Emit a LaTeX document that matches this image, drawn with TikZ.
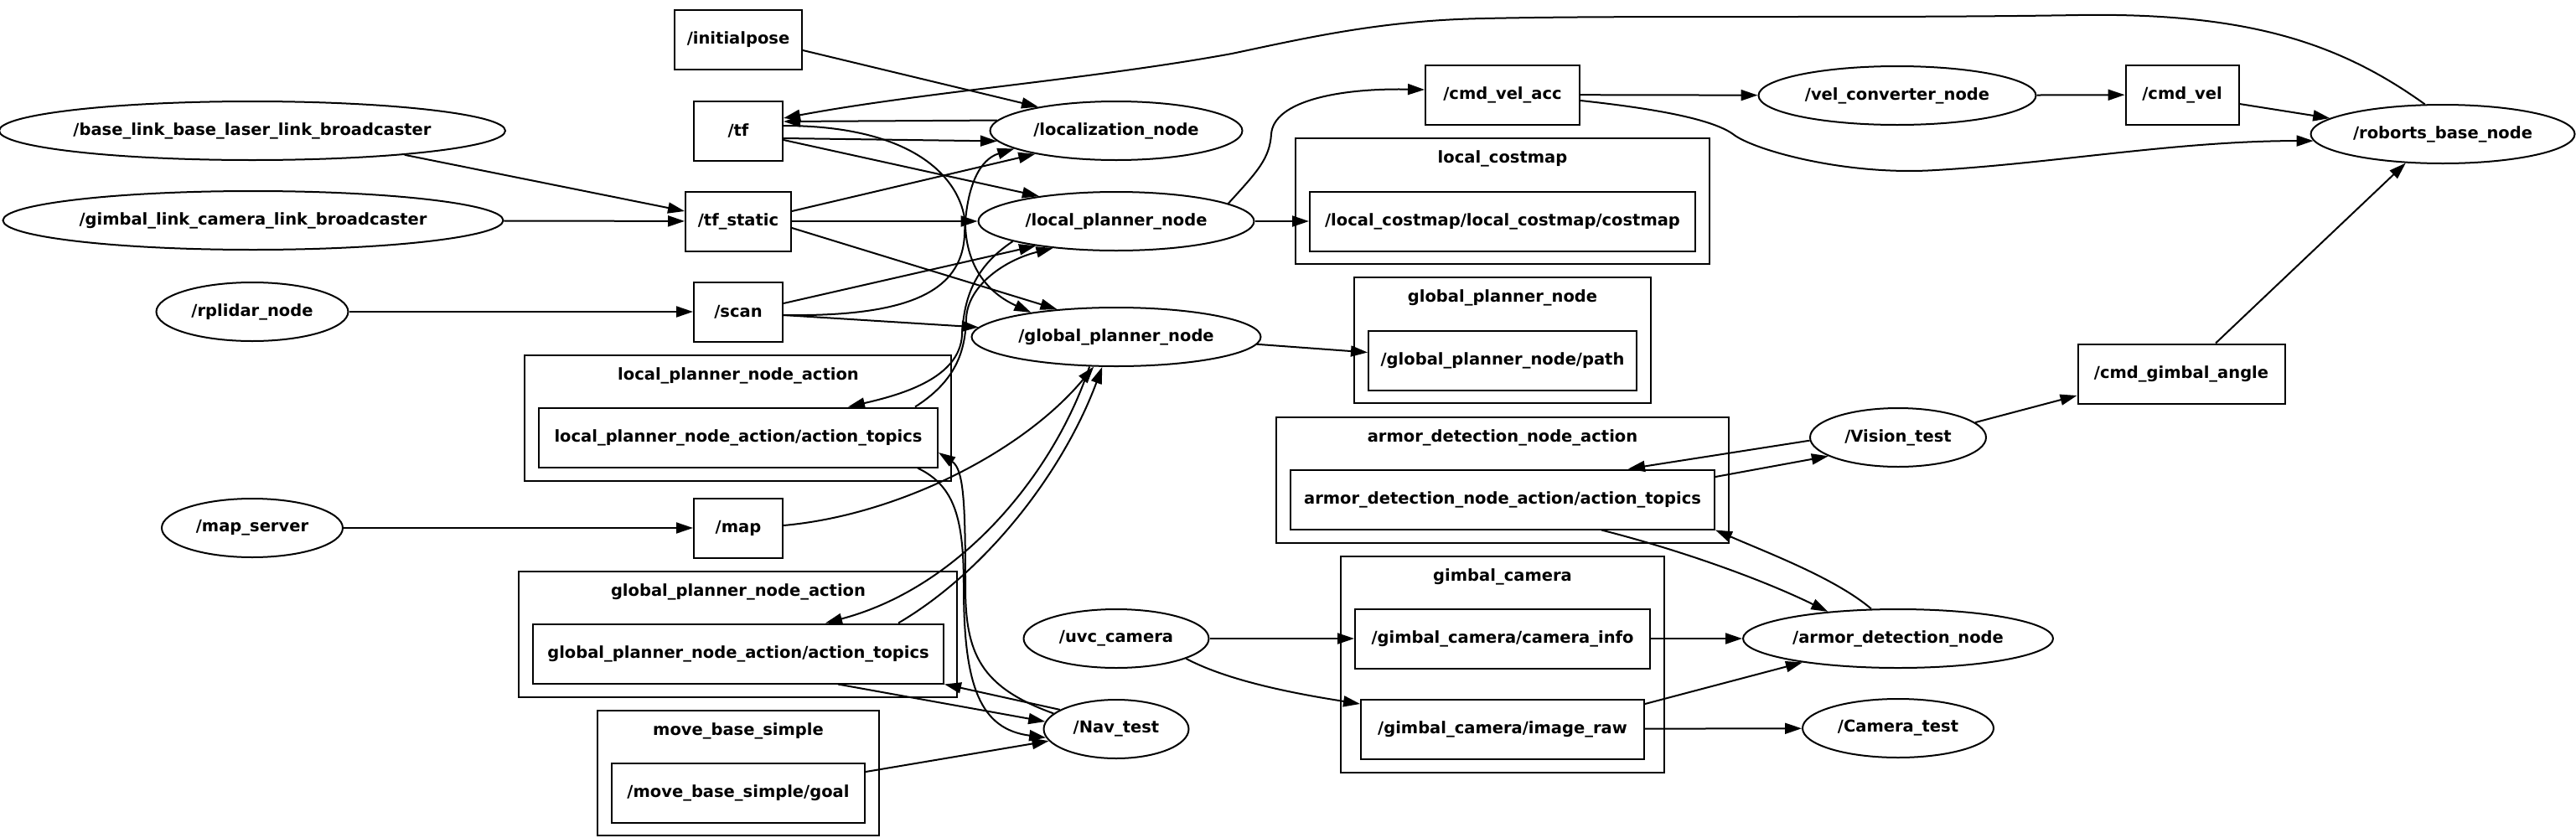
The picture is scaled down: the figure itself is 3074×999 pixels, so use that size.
\documentclass[tikz,border=0pt]{standalone}
\usepackage{fontspec}
\setmainfont{DejaVu Sans}
\usetikzlibrary{shapes.geometric,arrows.meta}
\begin{document}
\begin{tikzpicture}[x=1pt,y=-1pt,
  lbl/.style={font=\fontsize{19.5pt}{23pt}\selectfont\bfseries},
  topic/.style={draw, line width=2pt, rectangle, inner sep=0pt, minimum height=71pt, lbl},
  rosnode/.style={draw, line width=2pt, ellipse, inner sep=0pt, minimum height=70pt, lbl},
  cluster/.style={draw, line width=2pt, rectangle, inner sep=0pt},
  edge/.style={line width=2pt, -{Triangle[length=20pt,width=13pt]}}]
\useasboundingbox (0,0) rectangle (3074,999);

% clusters
\node[cluster, minimum width=509pt, minimum height=150pt] (lpacl) at (880.5,499) {};
\node[lbl] (lpat) at (881,448) {local\_planner\_node\_action};
\node[cluster, minimum width=523pt, minimum height=150pt] (gpacl) at (880.5,757) {};
\node[lbl] (gpat) at (881,706) {global\_planner\_node\_action};
\node[cluster, minimum width=336pt, minimum height=149pt] (mbscl) at (881,922.5) {};
\node[lbl] (mbst) at (881,872) {move\_base\_simple};
\node[cluster, minimum width=494pt, minimum height=150pt] (lccl) at (1793,240) {};
\node[lbl] (lct) at (1793,189) {local\_costmap};
\node[cluster, minimum width=354pt, minimum height=150pt] (gpncl) at (1793,406) {};
\node[lbl] (gpnt) at (1793,355) {global\_planner\_node};
\node[cluster, minimum width=540pt, minimum height=150pt] (adacl) at (1793,573) {};
\node[lbl] (adat) at (1793,522) {armor\_detection\_node\_action};
\node[cluster, minimum width=386pt, minimum height=258pt] (gccl) at (1793,793) {};
\node[lbl] (gct) at (1793,688) {gimbal\_camera};

% nodes
\node[rosnode, minimum width=602pt] (bllb) at (301,156) {/base\_link\_base\_laser\_link\_broadcaster};
\node[rosnode, minimum width=597pt] (glcb) at (302,263) {/gimbal\_link\_camera\_link\_broadcaster};
\node[rosnode, minimum width=229pt] (rplidar) at (301,372) {/rplidar\_node};
\node[rosnode, minimum width=216pt] (mapserver) at (301,630) {/map\_server};
\node[topic, minimum width=152pt] (initialpose) at (881,47) {/initialpose};
\node[topic, minimum width=106pt] (tf) at (881,156) {/tf};
\node[topic, minimum width=126pt] (tfstatic) at (881,264) {/tf\_static};
\node[topic, minimum width=106pt] (scan) at (881,372) {/scan};
\node[topic, minimum width=106pt] (map) at (881,630) {/map};
\node[topic, minimum width=476pt] (localact) at (881,522) {local\_planner\_node\_action/action\_topics};
\node[topic, minimum width=490pt] (globalact) at (881,780) {global\_planner\_node\_action/action\_topics};
\node[topic, minimum width=302pt] (goal) at (881,946) {/move\_base\_simple/goal};
\node[rosnode, minimum width=301pt] (localization) at (1332,156) {/localization\_node};
\node[rosnode, minimum width=329pt] (localplanner) at (1332,264) {/local\_planner\_node};
\node[rosnode, minimum width=345pt] (globalplanner) at (1332,402) {/global\_planner\_node};
\node[rosnode, minimum width=221pt] (uvc) at (1332,762) {/uvc\_camera};
\node[rosnode, minimum width=173pt] (navtest) at (1332,870) {/Nav\_test};
\node[topic, minimum width=184pt] (cmdvelacc) at (1793,113) {/cmd\_vel\_acc};
\node[topic, minimum width=460pt] (costmap) at (1793,264) {/local\_costmap/local\_costmap/costmap};
\node[topic, minimum width=320pt] (path) at (1793,430) {/global\_planner\_node/path};
\node[topic, minimum width=506pt] (armoract) at (1793,596) {armor\_detection\_node\_action/action\_topics};
\node[topic, minimum width=352pt] (camerainfo) at (1793,762) {/gimbal\_camera/camera\_info};
\node[topic, minimum width=338pt] (imageraw) at (1793,870) {/gimbal\_camera/image\_raw};
\node[rosnode, minimum width=331pt] (velconv) at (2264,114) {/vel\_converter\_node};
\node[topic, minimum width=135pt] (cmdvel) at (2604,113) {/cmd\_vel};
\node[rosnode, minimum width=315pt] (roborts) at (2915,160) {/roborts\_base\_node};
\node[topic, minimum width=247pt] (cmdgimbal) at (2603,446) {/cmd\_gimbal\_angle};
\node[rosnode, minimum width=210pt] (vision) at (2265,522) {/Vision\_test};
\node[rosnode, minimum width=370pt] (armor) at (2265,762) {/armor\_detection\_node};
\node[rosnode, minimum width=228pt] (cameratest) at (2265,869) {/Camera\_test};

% edges
\draw[edge] (bllb.-9.7) -- ([yshift=12pt]tfstatic.west);
\draw[edge] (glcb) -- (tfstatic);
\draw[edge] (rplidar) -- (scan);
\draw[edge] (mapserver) -- (map);
\draw[edge] ([yshift=-13pt]initialpose.east) -- (localization.163.4);
\draw[edge] (localization.175.6) -- ([yshift=11pt]tf.east);
\draw[edge] ([yshift=-9pt]tf.east) -- (localization.-175.1);
\draw[edge] ([yshift=-11pt]tf.east) -- (localplanner.162);
\draw[edge] ([yshift=6pt]tf.east) .. controls (1100,150) and (1150,220) .. (1152,270) .. controls (1154,320) and (1180,350) .. (globalplanner.164);
\draw[edge] ([yshift=12pt]tfstatic.east) -- (localization.-164.3);
\draw[edge] (tfstatic) -- (localplanner);
\draw[edge] ([yshift=-8pt]tfstatic.east) -- (globalplanner.155.4);
\draw[edge] ([yshift=10pt]scan.east) -- (localplanner.-163);
\draw[edge] ([yshift=-4pt]scan.east) .. controls (1080,378) and (1148,350) .. (1151,280) .. controls (1153,220) and (1170,190) .. (localization.-170);
\draw[edge] ([yshift=-4pt]scan.east) -- (globalplanner.176.2);
\draw[edge] (localplanner.191.1) .. controls (1160,320) and (1150,360) .. (1148,400) .. controls (1145,450) and (1080,470) .. ([xshift=131pt]localact.north);
\draw[edge] ([xshift=211pt]localact.north) .. controls (1140,455) and (1152,420) .. (1153,380) .. controls (1155,340) and (1200,310) .. (localplanner.203);
\draw[edge] ([yshift=3pt]map.east) .. controls (1070,615) and (1220,540) .. (globalplanner.233);
\draw[edge] (globalplanner.228.8) .. controls (1260,560) and (1150,700) .. ([xshift=104pt]globalact.north);
\draw[edge] ([xshift=191pt]globalact.north) .. controls (1180,680) and (1270,560) .. (globalplanner.245.3);
\draw[edge] ([xshift=214pt]localact.south) .. controls (1140,580) and (1150,620) .. (1150,700) .. controls (1150,820) and (1170,870) .. (navtest.187.6);
\draw[edge] (navtest.166.9) .. controls (1170,820) and (1152,780) .. (1152,700) .. controls (1152,600) and (1150,560) .. ([yshift=-18pt]localact.east);
\draw[edge] (navtest.161.8) -- (globalact.south east);
\draw[edge] ([xshift=119pt]globalact.south) -- (navtest.174.6);
\draw[edge] ([yshift=25pt]goal.east) -- (navtest.190.9);
\draw[edge] (localplanner.9.75) .. controls (1500,205) and (1515,190) .. (1517,160) .. controls (1520,120) and (1600,105) .. ([yshift=6pt]cmdvelacc.west);
\draw[edge] (localplanner) -- (costmap);
\draw[edge] (globalplanner.-3.5) -- ([yshift=9.5pt]path.west);
\draw[edge] (cmdvelacc) -- (velconv);
\draw[edge] (velconv) -- (cmdvel);
\draw[edge] ([yshift=-11pt]cmdvel.east) -- (roborts.172.1);
\draw[edge] ([yshift=-7pt]cmdvelacc.east) .. controls (1960,128) and (2040,140) .. (2068,160) .. controls (2090,178) and (2200,210) .. (2310,203) .. controls (2450,195) and (2600,168) .. (roborts.183);
\draw[edge] (roborts.121.9) .. controls (2790,50) and (2680,15) .. (2480,18) .. controls (2250,22) and (1950,18) .. (1772,22) .. controls (1650,24) and (1560,45) .. (1470,64) .. controls (1300,95) and (1100,110) .. ([yshift=15pt]tf.east);
\draw[edge] ([xshift=41pt]cmdgimbal.north) -- (roborts.218.7);
\draw[edge] (vision.11.3) -- ([yshift=-26pt]cmdgimbal.west);
\draw[edge] (vision.182.8) -- ([xshift=150pt]armoract.north);
\draw[edge] ([yshift=27pt]armoract.east) -- (vision.195.4);
\draw[edge] ([xshift=118pt]armoract.south) .. controls (2000,655) and (2100,690) .. (armor.159.6);
\draw[edge] (armor.132) .. controls (2190,690) and (2110,660) .. (armoract.south east);
\draw[edge] (camerainfo) -- (armor);
\draw[edge] ([yshift=30pt]imageraw.east) -- (armor.194.9);
\draw[edge] (imageraw) -- (cameratest);
\draw[edge] (uvc) -- (camerainfo);
\draw[edge] (uvc.-16) .. controls (1470,815) and (1560,830) .. ([yshift=30pt]imageraw.west);
\end{tikzpicture}
\end{document}
